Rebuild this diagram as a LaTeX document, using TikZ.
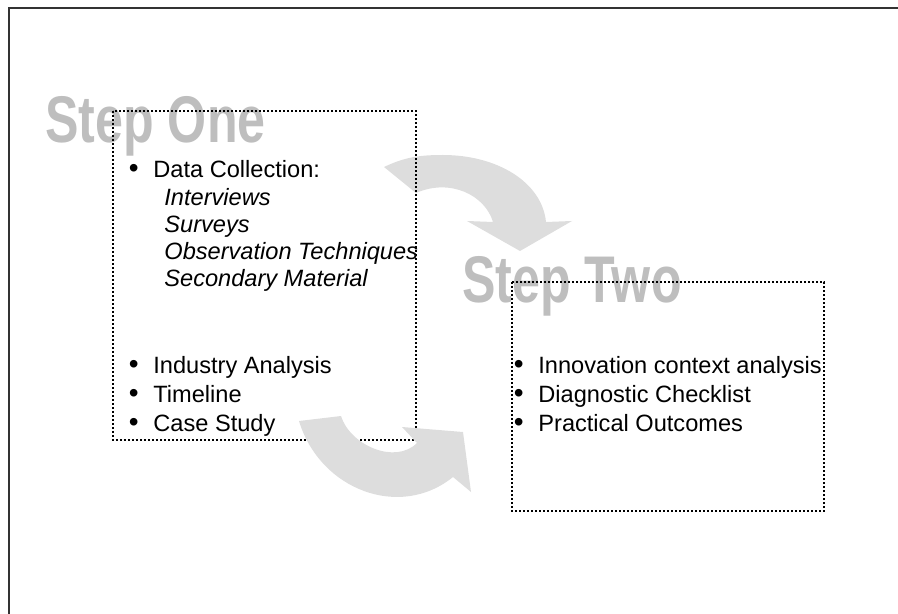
\documentclass[tikz,border=0pt]{standalone}
\usepackage{fontspec}
\setmainfont{Liberation Sans}
\definecolor{titlegray}{RGB}{190,190,190}
\definecolor{arrowgray}{RGB}{221,221,221}
\tikzset{
  stepbox/.style={draw=black, line width=1.2pt, dash pattern=on 1.2pt off 0.8pt},
  steptitle/.style={anchor=base west, inner sep=0pt, text=titlegray,
    font=\bfseries\fontsize{33}{33}\selectfont},
  item/.style={anchor=base west, inner sep=0pt, font=\fontsize{11.8}{14}\selectfont},
  subitem/.style={item, font=\fontsize{11.8}{14}\selectfont\itshape},
  bigarrow/.style={fill=arrowgray, draw=none}
}
\newcommand{\bul}{\llap{{\fontsize{14}{14}\selectfont\textbullet}\hspace{7.4pt}}}

\begin{document}
\begin{tikzpicture}[x=0.5pt, y=-0.5pt]
  \useasboundingbox (0,0) rectangle (898,614);
  \draw[line width=0.8pt, black!80] (898,8) -- (9,8) -- (9,614);

  % titles sit under the boxes
  \node[steptitle] (title one) at (45,143) {\scalebox{0.76}[1]{Step One}};
  \node[steptitle] (title two) at (462,303) {\scalebox{0.76}[1]{Step Two}};

  % arrow from step one to step two
  \fill[bigarrow] (384,167) .. controls (405,157) and (420,155) .. (443,155)
    .. controls (497,155) and (542,182) .. (546,222) -- (572,221) -- (520,251)
    -- (467,221) -- (493,222) .. controls (485,195) and (450,178) .. (416,193) -- cycle;

  \coordinate (one nw) at (113,111);
  \coordinate (one se) at (416,440);
  \draw[stepbox] (one nw) rectangle (one se);

  % arrow back round the bottom
  \fill[bigarrow] (299,421) .. controls (320,490) and (400,520) .. (453,477)
    -- (471,492) -- (463,432) -- (402,427) -- (417,443)
    .. controls (395,465) and (350,445) .. (341,416) -- cycle;

  \coordinate (two nw) at (512,282);
  \coordinate (two se) at (824,511);
  \draw[stepbox] (two nw) rectangle (two se);

  % step one list
  \node[item] (data) at (153,178) {\bul Data Collection:};
  \foreach \txt [count=\i] in {Interviews, Surveys, Observation Techniques, Secondary Material}
    \node[subitem] (sub\i) at (164,{178+27.2*\i}) {\txt};
  \foreach \txt [count=\i] in {Industry Analysis, Timeline, Case Study}
    \node[item] (one\i) at (153,{344+29*\i}) {\bul\txt};

  % step two list
  \foreach \txt [count=\i] in {Innovation context analysis, Diagnostic Checklist, Practical Outcomes}
    \node[item] (two\i) at (538,{344+29*\i}) {\bul\txt};
\end{tikzpicture}
\end{document}
